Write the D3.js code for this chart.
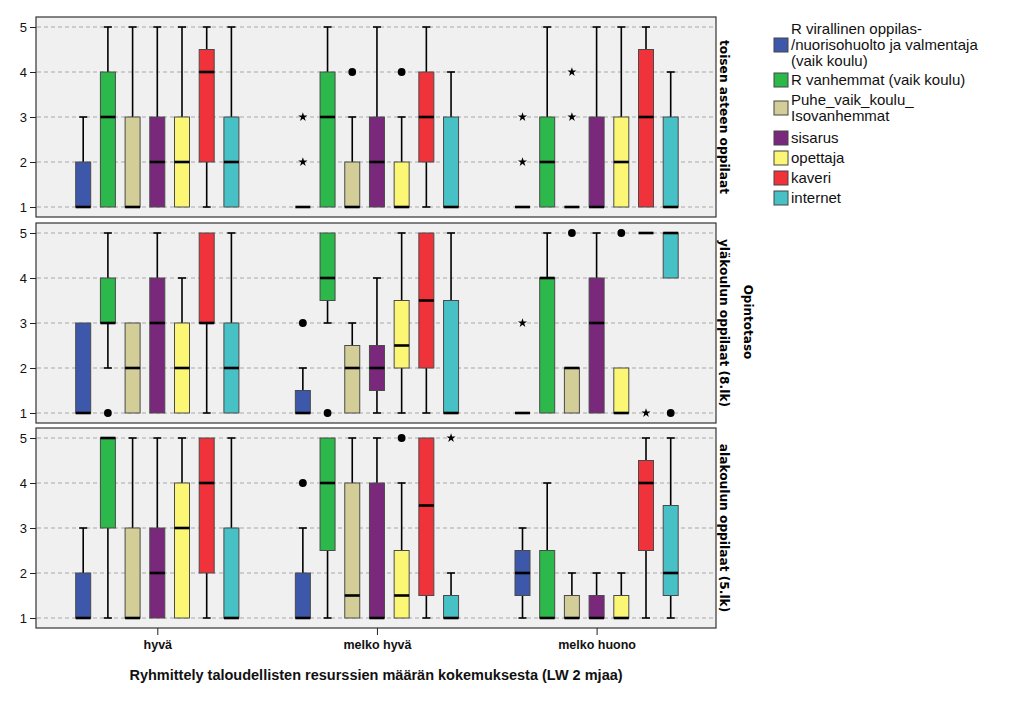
<!DOCTYPE html>
<html><head><meta charset="utf-8">
<script src="https://cdn.jsdelivr.net/npm/d3@7"></script>
<style>body{margin:0;background:#fff}</style></head>
<body><svg id="c" width="1034" height="706"></svg>
<script>
const categories = ["hyvä", "melko hyvä", "melko huono"];
const seriesKeys = ["virallinen", "vanhemmat", "isovanhemmat", "sisarus", "opettaja", "kaveri", "internet"];
const legendLines = [
  ["R virallinen oppilas-", "/nuorisohuolto ja valmentaja", "(vaik koulu)"],
  ["R vanhemmat (vaik koulu)"],
  ["Puhe_vaik_koulu_", "Isovanhemmat"],
  ["sisarus"], ["opettaja"], ["kaveri"], ["internet"]
];
const seriesColors = ["#3d58ab", "#2db84b", "#d3ce97", "#7a287b", "#fbf774", "#f0323b", "#47c1c6"];
const panelLabels = ["toisen asteen oppilaat", "yläkoulun oppilaat (8.lk)", "alakoulun oppilaat (5.lk)"];
const yTicks = [1, 2, 3, 4, 5];
const xTitle = "Ryhmittely taloudellisten resurssien määrän kokemuksesta (LW 2 mjaa)";
const rightTitle = "Opintotaso";

// [whisker low, q1, median, q3, whisker high] per category, per series
const statsToinen = [
  [[1,1,1,2,3],[1,1,3,4,5],[1,1,1,3,5],[1,1,2,3,5],[1,1,2,3,5],[1,2,4,4.5,5],[1,1,2,3,5]],
  [[1,1,1,1,1],[1,1,3,4,5],[1,1,1,2,3],[1,1,2,3,5],[1,1,1,2,3],[1,2,3,4,5],[1,1,1,3,4]],
  [[1,1,1,1,1],[1,1,2,3,5],[1,1,1,1,1],[1,1,1,3,5],[1,1,2,3,5],[1,1,3,4.5,5],[1,1,1,3,4]]
];
const statsYla = [
  [[1,1,1,3,3],[2,3,3,4,5],[1,1,2,3,3],[1,1,3,4,5],[1,1,2,3,4],[1,3,3,5,5],[1,1,2,3,5]],
  [[1,1,1,1.5,2],[3,3.5,4,5,5],[1,1,2,2.5,3],[1,1.5,2,2.5,4],[1,2,2.5,3.5,5],[1,2,3.5,5,5],[1,1,1,3.5,5]],
  [[1,1,1,1,1],[1,1,4,4,5],[1,1,2,2,2],[1,1,3,4,5],[1,1,1,2,2],[5,5,5,5,5],[4,4,5,5,5]]
];
const statsAla = [
  [[1,1,1,2,3],[1,3,5,5,5],[1,1,1,3,5],[1,1,2,3,5],[1,1,3,4,5],[1,2,4,5,5],[1,1,1,3,5]],
  [[1,1,1,2,3],[1,2.5,4,5,5],[1,1,1.5,4,5],[1,1,1,4,5],[1,1,1.5,2.5,4],[1,1.5,3.5,5,5],[1,1,1,1.5,2]],
  [[1,1.5,2,2.5,3],[1,1,1,2.5,4],[1,1,1,1.5,2],[1,1,1,1.5,2],[1,1,1,1.5,2],[1,2.5,4,4.5,5],[1,1.5,2,3.5,5]]
];
// [category index, series index, value, kind: "o" outlier circle, "x" extreme star]
const outliersToinen = [[1,0,2,"x"],[1,0,3,"x"],[1,2,4,"o"],[1,4,4,"o"],[2,0,2,"x"],[2,0,3,"x"],[2,2,3,"x"],[2,2,4,"x"]];
const outliersYla = [[0,1,1,"o"],[1,0,3,"o"],[1,1,1,"o"],[2,0,3,"x"],[2,2,5,"o"],[2,4,5,"o"],[2,5,1,"x"],[2,6,1,"o"]];
const outliersAla = [[1,0,4,"o"],[1,4,5,"o"],[1,6,5,"x"]];

const panelStats = [statsToinen, statsYla, statsAla];
const panelOutliers = [outliersToinen, outliersYla, outliersAla];

const svg = d3.select("#c");
const left = 36, right = 716, panelH = 200;
const panelTops = [17, 223, 428];
const x = d3.scalePoint().domain(categories).range([157.3, 596.6]);
const xs = d3.scalePoint().domain(seriesKeys).range([-74.1, 74.1]);
const boxW = 15, capW = 8;
const sansFont = "'Liberation Sans', Arial, sans-serif";
const narrowFont = "'Liberation Sans Narrow', 'Arial Narrow', 'Liberation Sans', sans-serif";

panelTops.forEach((top, pi) => {
  const g = svg.append("g");
  const y = d3.scaleLinear().domain([1, 5]).range([top + 190, top + 10]);
  g.append("rect").attr("x", left).attr("y", top).attr("width", right - left).attr("height", panelH)
    .attr("fill", "#f0f0f0").attr("stroke", "#333").attr("stroke-width", 1.2);
  g.selectAll(".grid").data(yTicks).join("line")
    .attr("x1", left + 1).attr("x2", right - 1)
    .attr("y1", d => y(d)).attr("y2", d => y(d))
    .attr("stroke", "#a8a8a8").attr("stroke-width", 1).attr("stroke-dasharray", "4,3");
  const ax = g.append("g").attr("transform", `translate(${left},0)`)
    .call(d3.axisLeft(y).tickValues(yTicks).tickFormat(d3.format("d")).tickSize(6).tickPadding(3));
  ax.select(".domain").remove();
  ax.selectAll("line").attr("stroke", "#222");
  ax.selectAll("text").attr("font-family", sansFont).attr("font-size", 13).attr("fill", "#111");

  const stats = panelStats[pi];
  categories.forEach((cat, ci) => {
    seriesKeys.forEach((sk, si) => {
      const [lo, q1, med, q3, hi] = stats[ci][si];
      const cx = x(cat) + xs(sk);
      const bg = g.append("g");
      if (hi > q3) {
        bg.append("line").attr("x1", cx).attr("x2", cx).attr("y1", y(q3)).attr("y2", y(hi)).attr("stroke", "#000").attr("stroke-width", 1.6);
        bg.append("line").attr("x1", cx - capW / 2).attr("x2", cx + capW / 2).attr("y1", y(hi)).attr("y2", y(hi)).attr("stroke", "#000").attr("stroke-width", 1.6);
      }
      if (lo < q1) {
        bg.append("line").attr("x1", cx).attr("x2", cx).attr("y1", y(q1)).attr("y2", y(lo)).attr("stroke", "#000").attr("stroke-width", 1.6);
        bg.append("line").attr("x1", cx - capW / 2).attr("x2", cx + capW / 2).attr("y1", y(lo)).attr("y2", y(lo)).attr("stroke", "#000").attr("stroke-width", 1.6);
      }
      if (q3 > q1) {
        bg.append("rect").attr("x", cx - boxW / 2).attr("y", y(q3)).attr("width", boxW).attr("height", y(q1) - y(q3))
          .attr("fill", seriesColors[si]).attr("stroke", "#4a4a4a").attr("stroke-width", 1);
      }
      bg.append("line").attr("x1", cx - boxW / 2).attr("x2", cx + boxW / 2).attr("y1", y(med)).attr("y2", y(med))
        .attr("stroke", "#000").attr("stroke-width", 2.6);
    });
  });
  panelOutliers[pi].forEach(([ci, si, v, kind]) => {
    const cx = x(categories[ci]) + xs(seriesKeys[si]);
    if (kind === "o") {
      g.append("circle").attr("cx", cx).attr("cy", y(v)).attr("r", 3.9).attr("fill", "#000");
    } else {
      g.append("path").attr("d", d3.symbol(d3.symbolStar, 26)()).attr("transform", `translate(${cx},${y(v)})`).attr("fill", "#000");
    }
  });
  svg.append("text").attr("transform", `translate(${724},${top + panelH / 2}) rotate(90)`)
    .attr("text-anchor", "middle").attr("dominant-baseline", "central")
    .attr("font-family", "'DejaVu Sans', Verdana, sans-serif").attr("font-weight", "bold").attr("font-size", 12.2)
    .attr("fill", "#000").text(panelLabels[pi]);
});

const bottom = panelTops[2] + panelH;
const xa = svg.append("g").attr("transform", `translate(0,${bottom})`)
  .call(d3.axisBottom(x).tickSize(7).tickPadding(5));
xa.select(".domain").remove();
xa.selectAll("line").attr("stroke", "#222");
xa.selectAll("text").attr("font-family", narrowFont).attr("font-weight", "bold").attr("font-size", 12.5).attr("fill", "#111");

svg.append("text").attr("x", 376).attr("y", 680).attr("text-anchor", "middle")
  .attr("font-family", narrowFont).attr("font-weight", "bold").attr("font-size", 14.5).attr("fill", "#111").text(xTitle);

svg.append("text").attr("transform", `translate(748,322) rotate(90)`)
  .attr("text-anchor", "middle").attr("dominant-baseline", "central")
  .attr("font-family", "'DejaVu Sans', Verdana, sans-serif").attr("font-weight", "bold").attr("font-size", 12)
  .attr("fill", "#000").text(rightTitle);

const legendCenters = [45, 80, 108, 138, 158, 178, 198];
const lg = svg.append("g");
legendLines.forEach((lines, i) => {
  const cy = legendCenters[i];
  lg.append("rect").attr("x", 774).attr("y", cy - 7).attr("width", 14).attr("height", 14)
    .attr("fill", seriesColors[i]).attr("stroke", "#444").attr("stroke-width", 1);
  const n = lines.length;
  lines.forEach((ln, j) => {
    lg.append("text").attr("x", 791).attr("y", cy + (j - (n - 1) / 2) * 16 + 4.5)
      .attr("font-family", sansFont).attr("font-size", 15).attr("fill", "#111").text(ln);
  });
});
</script>
</body></html>
